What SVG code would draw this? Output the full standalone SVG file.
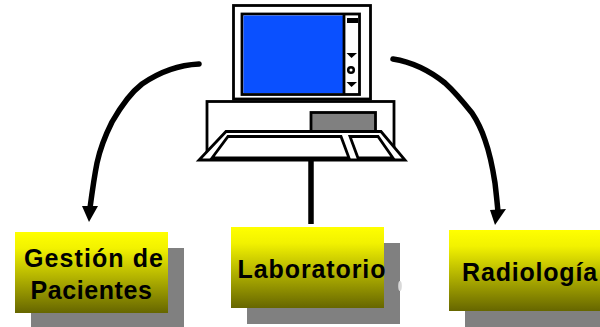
<svg xmlns="http://www.w3.org/2000/svg" width="600" height="327" viewBox="0 0 600 327">
<defs>
<linearGradient id="g" x1="0" y1="0" x2="0" y2="1"><stop offset="0" stop-color="#ffff00"/><stop offset="0.2" stop-color="#f2f200"/><stop offset="1" stop-color="#666600"/></linearGradient>
</defs>
<style>
.ln{fill:none;stroke:#000;stroke-linecap:round}
.pc{stroke:#000;stroke-width:2.800;stroke-linejoin:miter}
.sh{fill:#808080}
.bx{fill:url(#g)}
text{font-family:"Liberation Sans",Arial,sans-serif;font-weight:700;font-size:25px;fill:#000;text-anchor:middle}
</style>
<rect width="600" height="327" fill="#fff"/>
<g id="connectors">
<path class="ln" stroke-width="5.500" d="M199 64C178 65 158 73 142 84C129 94 120 108 112 122C105 136 100 149 97 163C94 178 92 193 90 208"/>
<polygon points="82,206 98,206 89,222"/>
<path class="ln" stroke-width="5.500" d="M393 59C412 62 430 71 445 83C456 93 464 103 472 113C478 122 482 131 485 140C490 154 493 170 495 183C496 192 497 200 498 212"/>
<polygon points="490,210 506,209 495,225"/>
<line class="ln" stroke-width="5.500" style="stroke-linecap:butt" x1="311" y1="160" x2="311" y2="224"/>
</g>
<g id="computer">
<rect class="pc" x="233.500" y="5.500" width="137" height="93.500" fill="#fff"/>
<rect class="pc" x="242" y="14" width="117.500" height="80.500" fill="#fff"/>
<rect x="243.500" y="15.500" width="99.500" height="77.500" fill="#0a50ff"/>
<line x1="344" y1="14" x2="344" y2="94" stroke="#000" stroke-width="2.800"/>
<rect x="347" y="18" width="11" height="5" fill="#000"/>
<polygon points="346.500,53 357,53 351.500,58"/>
<circle cx="351" cy="70" r="2.800" fill="#fff" stroke="#000" stroke-width="2.500"/>
<polygon points="346.500,82 357,82 351.500,87"/>
<rect class="pc" x="207" y="101.500" width="187" height="50" fill="#fff"/>
<rect class="pc" x="311" y="112.500" width="64.500" height="20" fill="#808080"/>
<polygon class="pc" points="226,131.500 381,131.500 405,160 199,160" fill="#fff"/>
<polygon class="pc" points="228,136.500 341,136.500 349,158 212,158" fill="#fff"/>
<polygon class="pc" points="350,136.500 378,136.500 393,158 358,158" fill="#fff"/>
</g>
<g id="gestion">
<rect class="sh" x="31" y="248" width="153" height="79"/>
<rect class="bx" x="15" y="232" width="153" height="81"/>
<text x="94" y="266.500" letter-spacing="1.100">Gestión de</text>
<text x="91.500" y="298.500" letter-spacing="0.600">Pacientes</text>
</g>
<g id="laboratorio">
<rect class="sh" x="247" y="243" width="153" height="81"/>
<ellipse cx="400" cy="286" rx="1.800" ry="5" fill="#d8d8d8"/>
<rect class="bx" x="231" y="227" width="153" height="81"/>
<text x="312" y="278" letter-spacing="0.900">Laboratorio</text>
</g>
<g id="radiologia">
<rect class="sh" x="465" y="246" width="135" height="81"/>
<rect class="bx" x="449" y="230" width="151" height="81"/>
<text x="530" y="280.500" letter-spacing="0.800">Radiología</text>
</g>
</svg>
